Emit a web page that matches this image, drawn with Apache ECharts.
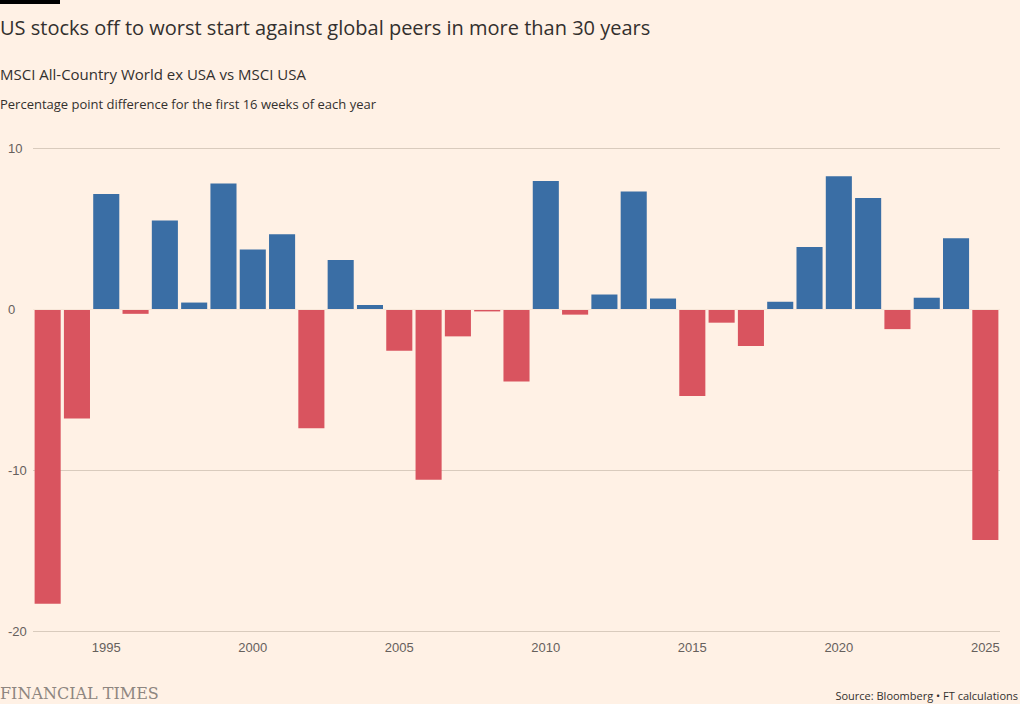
<!DOCTYPE html>
<html><head><meta charset="utf-8">
<script src="https://cdn.jsdelivr.net/npm/echarts@6/dist/echarts.min.js"></script>
<style>
body{margin:0;background:#fff1e5;font-family:"Open Sans",sans-serif;}
#wrap{position:relative;width:1020px;height:704px;}
#bar{position:absolute;left:0;top:0;width:60px;height:4px;background:#000;}
#t{position:absolute;left:0;top:14px;font-size:20px;color:#33302e;}
#s1{position:absolute;left:0;top:64px;font-size:15px;color:#33302e;}
#s2{position:absolute;left:0;top:95px;font-size:13px;color:#33302e;}
#ft{position:absolute;left:0;top:684px;font-family:"DejaVu Serif",serif;font-size:16px;color:#8e8680;letter-spacing:0;}
#src{position:absolute;right:2px;top:688px;font-size:11px;color:#33302e;}
#c{position:absolute;left:0;top:0;width:1020px;height:704px;}
</style></head><body>
<div id="wrap">
<div id="c"></div>
<div id="bar"></div>
<div id="t">US stocks off to worst start against global peers in more than 30 years</div>
<div id="s1">MSCI All-Country World ex USA vs MSCI USA</div>
<div id="s2">Percentage point difference for the first 16 weeks of each year</div>
<div id="ft">FINANCIAL TIMES</div>
<div id="src">Source: Bloomberg • FT calculations</div>
</div>
<script>
const years = [];
for (let y = 1993; y <= 2025; y++) years.push(String(y));
const values = [-18.3, -6.8, 7.15, -0.3, 5.5, 0.4, 7.8, 3.7, 4.65, -7.4, 3.05, 0.25, -2.6, -10.6, -1.7, -0.15, -4.5,
  7.95, -0.35, 0.9, 7.3, 0.65, -5.4, -0.85, -2.3, 0.45, 3.85, 8.25, 6.9, -1.25, 0.7, 4.4, -14.35];
const yTicks = [-20, -10, 0, 10];

const chart = echarts.init(document.getElementById('c'), null, { renderer: 'svg' });
chart.setOption({
  backgroundColor: 'transparent',
  animation: false,
  grid: { left: 33, right: 20, top: 148, bottom: 73 },
  xAxis: {
    type: 'category',
    data: years,
    axisLine: { show: false },
    axisTick: { alignWithLabel: true, length: 6, lineStyle: { color: '#66605c' }, interval: (i, v) => Number(v) % 5 === 0 },
    axisLabel: { color: '#66605c', fontSize: 13, margin: 10, interval: (i, v) => Number(v) % 5 === 0 }
  },
  yAxis: {
    type: 'value', min: -20, max: 10, interval: 10,
    axisLabel: { color: '#66605c', fontSize: 13, align: 'left', margin: 25 },
    splitLine: { lineStyle: { color: '#d9cbbd' } }
  },
  series: [{
    type: 'bar',
    barCategoryGap: '11%',
    data: values.map(v => ({ value: v, itemStyle: { color: v >= 0 ? '#3a6ea5' : '#d9545f' } }))
  }, {
    type: 'line', data: [], markLine: { silent: true, symbol: 'none', label: { show: false },
      lineStyle: { color: '#f7e6d8', type: 'solid', width: 1 }, data: [{ yAxis: 0 }] }
  }]
});
</script>
</body></html>
